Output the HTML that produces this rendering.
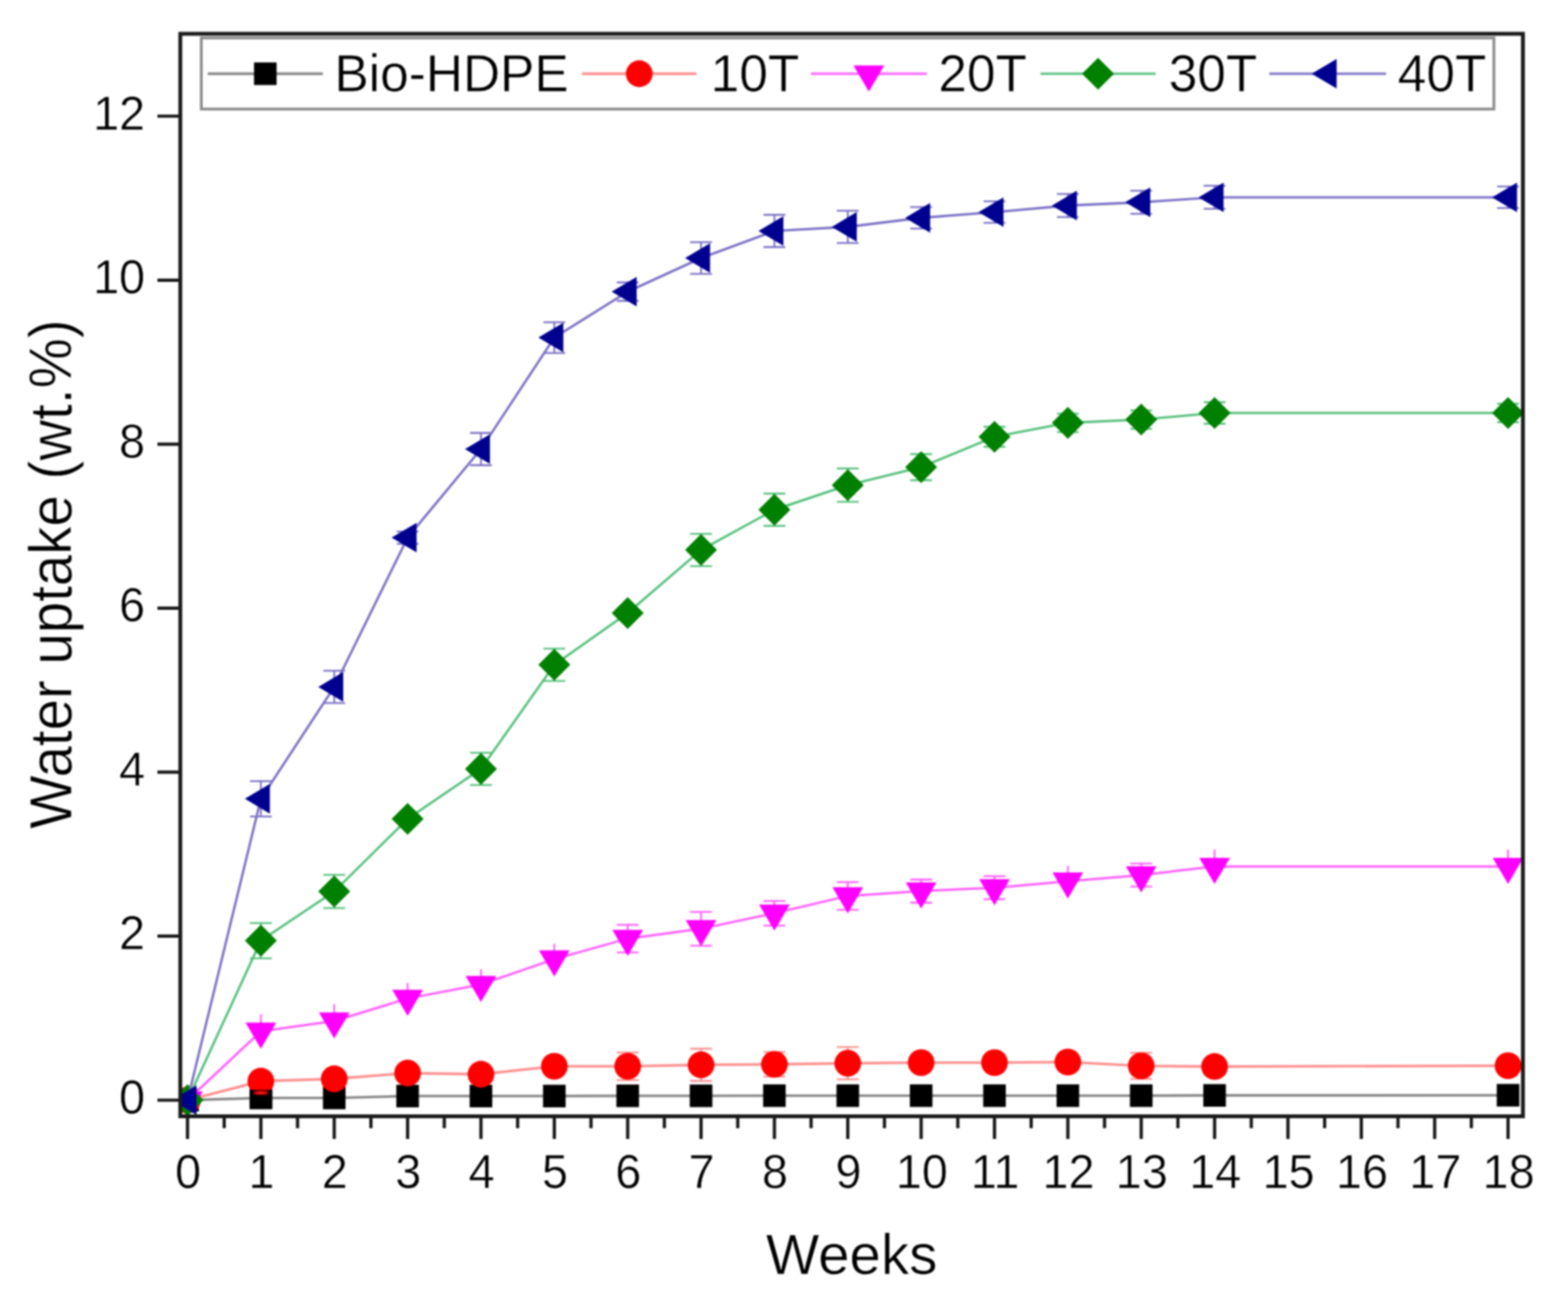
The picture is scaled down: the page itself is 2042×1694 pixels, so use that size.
<!DOCTYPE html>
<html><head><meta charset="utf-8"><title>Water uptake</title>
<style>
html,body{margin:0;padding:0;background:#fff;}
body{width:2042px;height:1694px;overflow:hidden;}
svg{display:block;filter:blur(1px);}
text{font-family:"Liberation Sans",Arial,Helvetica,sans-serif;fill:#000;stroke:#fff;stroke-width:0.6px;}
.tl{font-size:61px;}
.lg{font-size:67px;}
.at{font-size:73.5px;}
</style></head>
<body>
<svg width="2042" height="1694" viewBox="0 0 2042 1694">
<rect width="2042" height="1694" fill="#fff"/>
<defs><clipPath id="pc"><rect x="237" y="46" width="1744" height="1405"/></clipPath></defs>
<g clip-path="url(#pc)">
<polyline points="244.20,1432.50 339.74,1429.62 435.28,1429.62 530.82,1427.16 626.36,1427.16 721.90,1427.16 817.44,1426.84 912.98,1426.84 1008.52,1426.63 1104.06,1426.63 1199.60,1426.63 1295.14,1426.63 1390.68,1426.63 1486.22,1426.63 1581.76,1426.31 1963.92,1426.09" fill="none" stroke="#878787" stroke-width="3.4" stroke-linejoin="round"/>
<rect x="229.50" y="1417.80" width="29.4" height="29.4" fill="#000000"/>
<rect x="325.04" y="1414.92" width="29.4" height="29.4" fill="#000000"/>
<rect x="420.58" y="1414.92" width="29.4" height="29.4" fill="#000000"/>
<rect x="516.12" y="1412.46" width="29.4" height="29.4" fill="#000000"/>
<rect x="611.66" y="1412.46" width="29.4" height="29.4" fill="#000000"/>
<rect x="707.20" y="1412.46" width="29.4" height="29.4" fill="#000000"/>
<rect x="802.74" y="1412.14" width="29.4" height="29.4" fill="#000000"/>
<rect x="898.28" y="1412.14" width="29.4" height="29.4" fill="#000000"/>
<rect x="993.82" y="1411.93" width="29.4" height="29.4" fill="#000000"/>
<rect x="1089.36" y="1411.93" width="29.4" height="29.4" fill="#000000"/>
<rect x="1184.90" y="1411.93" width="29.4" height="29.4" fill="#000000"/>
<rect x="1280.44" y="1411.93" width="29.4" height="29.4" fill="#000000"/>
<rect x="1375.98" y="1411.93" width="29.4" height="29.4" fill="#000000"/>
<rect x="1471.52" y="1411.93" width="29.4" height="29.4" fill="#000000"/>
<rect x="1567.06" y="1411.61" width="29.4" height="29.4" fill="#000000"/>
<rect x="1949.22" y="1411.39" width="29.4" height="29.4" fill="#000000"/>
<polyline points="244.20,1432.50 339.74,1407.73 435.28,1404.74 530.82,1397.27 626.36,1398.76 721.90,1388.40 817.44,1388.40 912.98,1386.48 1008.52,1385.84 1104.06,1384.45 1199.60,1383.60 1295.14,1383.60 1390.68,1382.85 1486.22,1387.87 1581.76,1388.72 1963.92,1387.66" fill="none" stroke="#ff8e8e" stroke-width="3.4" stroke-linejoin="round"/>
<path d="M435.28,1396.74V1412.74M421.08,1396.74H449.48M421.08,1412.74H449.48M530.82,1389.27V1405.27M516.62,1389.27H545.02M516.62,1405.27H545.02M626.36,1390.76V1406.76M612.16,1390.76H640.56M612.16,1406.76H640.56M721.90,1380.40V1396.40M707.70,1380.40H736.10M707.70,1396.40H736.10M817.44,1370.40V1406.40M803.24,1370.40H831.64M803.24,1406.40H831.64M912.98,1365.48V1407.48M898.78,1365.48H927.18M898.78,1407.48H927.18M1008.52,1369.84V1401.84M994.32,1369.84H1022.72M994.32,1401.84H1022.72M1104.06,1363.45V1405.45M1089.86,1363.45H1118.26M1089.86,1405.45H1118.26M1199.60,1375.60V1391.60M1185.40,1375.60H1213.80M1185.40,1391.60H1213.80M1295.14,1375.60V1391.60M1280.94,1375.60H1309.34M1280.94,1391.60H1309.34M1390.68,1374.85V1390.85M1376.48,1374.85H1404.88M1376.48,1390.85H1404.88M1486.22,1370.87V1404.87M1472.02,1370.87H1500.42M1472.02,1404.87H1500.42M1581.76,1380.72V1396.72M1567.56,1380.72H1595.96M1567.56,1396.72H1595.96M1963.92,1379.66V1395.66M1949.72,1379.66H1978.12M1949.72,1395.66H1978.12" fill="none" stroke="#ff8e8e" stroke-width="2.3"/>
<circle cx="244.20" cy="1432.50" r="17.4" fill="#ff0000"/>
<circle cx="339.74" cy="1407.73" r="17.4" fill="#ff0000"/>
<circle cx="435.28" cy="1404.74" r="17.4" fill="#ff0000"/>
<circle cx="530.82" cy="1397.27" r="17.4" fill="#ff0000"/>
<circle cx="626.36" cy="1398.76" r="17.4" fill="#ff0000"/>
<circle cx="721.90" cy="1388.40" r="17.4" fill="#ff0000"/>
<circle cx="817.44" cy="1388.40" r="17.4" fill="#ff0000"/>
<circle cx="912.98" cy="1386.48" r="17.4" fill="#ff0000"/>
<circle cx="1008.52" cy="1385.84" r="17.4" fill="#ff0000"/>
<circle cx="1104.06" cy="1384.45" r="17.4" fill="#ff0000"/>
<circle cx="1199.60" cy="1383.60" r="17.4" fill="#ff0000"/>
<circle cx="1295.14" cy="1383.60" r="17.4" fill="#ff0000"/>
<circle cx="1390.68" cy="1382.85" r="17.4" fill="#ff0000"/>
<circle cx="1486.22" cy="1387.87" r="17.4" fill="#ff0000"/>
<circle cx="1581.76" cy="1388.72" r="17.4" fill="#ff0000"/>
<circle cx="1963.92" cy="1387.66" r="17.4" fill="#ff0000"/>
<rect x="324.94" y="1419" width="29.6" height="24.6" fill="#000"/>
<rect x="329.74" y="1419.3" width="20" height="7" fill="#6a0000" rx="3"/>
<ellipse cx="339.74" cy="1423" rx="8" ry="1.9" fill="#ff1010"/>
<polyline points="244.20,1432.50 339.74,1342.81 435.28,1329.47 530.82,1300.11 626.36,1281.95 721.90,1248.86 817.44,1222.16 912.98,1209.35 1008.52,1189.06 1104.06,1166.64 1199.60,1160.24 1295.14,1155.97 1390.68,1147.42 1486.22,1139.42 1581.76,1128.21 1963.92,1128.21" fill="none" stroke="#ff5cff" stroke-width="3.0" stroke-linejoin="round"/>
<path d="M339.74,1320.81V1342.81M435.28,1307.47V1329.47M530.82,1280.11V1300.11M626.36,1261.95V1281.95M721.90,1228.86V1248.86M817.44,1204.16V1240.16M803.24,1204.16H831.64M803.24,1240.16H831.64M912.98,1187.35V1231.35M898.78,1187.35H927.18M898.78,1231.35H927.18M1008.52,1173.06V1205.06M994.32,1173.06H1022.72M994.32,1205.06H1022.72M1104.06,1148.64V1184.64M1089.86,1148.64H1118.26M1089.86,1184.64H1118.26M1199.60,1145.24V1175.24M1185.40,1145.24H1213.80M1185.40,1175.24H1213.80M1295.14,1140.97V1170.97M1280.94,1140.97H1309.34M1280.94,1170.97H1309.34M1390.68,1127.42V1147.42M1486.22,1124.42V1154.42M1472.02,1124.42H1500.42M1472.02,1154.42H1500.42M1581.76,1106.21V1128.21M1963.92,1106.21V1128.21" fill="none" stroke="#ff5cff" stroke-width="2.3"/>
<polygon points="224.20,1421.20 264.20,1421.20 244.20,1455.20" fill="#ff00ff"/>
<polygon points="319.74,1331.51 359.74,1331.51 339.74,1365.51" fill="#ff00ff"/>
<polygon points="415.28,1318.17 455.28,1318.17 435.28,1352.17" fill="#ff00ff"/>
<polygon points="510.82,1288.81 550.82,1288.81 530.82,1322.81" fill="#ff00ff"/>
<polygon points="606.36,1270.65 646.36,1270.65 626.36,1304.65" fill="#ff00ff"/>
<polygon points="701.90,1237.56 741.90,1237.56 721.90,1271.56" fill="#ff00ff"/>
<polygon points="797.44,1210.86 837.44,1210.86 817.44,1244.86" fill="#ff00ff"/>
<polygon points="892.98,1198.05 932.98,1198.05 912.98,1232.05" fill="#ff00ff"/>
<polygon points="988.52,1177.76 1028.52,1177.76 1008.52,1211.76" fill="#ff00ff"/>
<polygon points="1084.06,1155.34 1124.06,1155.34 1104.06,1189.34" fill="#ff00ff"/>
<polygon points="1179.60,1148.94 1219.60,1148.94 1199.60,1182.94" fill="#ff00ff"/>
<polygon points="1275.14,1144.67 1315.14,1144.67 1295.14,1178.67" fill="#ff00ff"/>
<polygon points="1370.68,1136.12 1410.68,1136.12 1390.68,1170.12" fill="#ff00ff"/>
<polygon points="1466.22,1128.12 1506.22,1128.12 1486.22,1162.12" fill="#ff00ff"/>
<polygon points="1561.76,1116.91 1601.76,1116.91 1581.76,1150.91" fill="#ff00ff"/>
<polygon points="1943.92,1116.91 1983.92,1116.91 1963.92,1150.91" fill="#ff00ff"/>
<polyline points="244.20,1432.50 339.74,1224.83 435.28,1160.77 530.82,1066.28 626.36,1001.15 721.90,865.55 817.44,798.29 912.98,716.07 1008.52,663.76 1104.06,631.73 1199.60,608.24 1295.14,568.73 1390.68,550.58 1486.22,546.31 1581.76,537.77 1963.92,537.77" fill="none" stroke="#55c07c" stroke-width="3.1" stroke-linejoin="round"/>
<path d="M339.74,1201.83V1247.83M325.54,1201.83H353.94M325.54,1247.83H353.94M435.28,1139.07V1182.47M421.08,1139.07H449.48M421.08,1182.47H449.48M626.36,980.15V1022.15M612.16,980.15H640.56M612.16,1022.15H640.56M721.90,844.55V886.55M707.70,844.55H736.10M707.70,886.55H736.10M912.98,695.07V737.07M898.78,695.07H927.18M898.78,737.07H927.18M1008.52,642.76V684.76M994.32,642.76H1022.72M994.32,684.76H1022.72M1104.06,610.02V653.43M1089.86,610.02H1118.26M1089.86,653.43H1118.26M1199.60,591.24V625.24M1185.40,591.24H1213.80M1185.40,625.24H1213.80M1295.14,555.73V581.73M1280.94,555.73H1309.34M1280.94,581.73H1309.34M1390.68,538.58V562.58M1376.48,538.58H1404.88M1376.48,562.58H1404.88M1486.22,534.31V558.31M1472.02,534.31H1500.42M1472.02,558.31H1500.42M1581.76,523.77V551.77M1567.56,523.77H1595.96M1567.56,551.77H1595.96M1963.92,525.77V549.77M1949.72,525.77H1978.12M1949.72,549.77H1978.12" fill="none" stroke="#55c07c" stroke-width="2.3"/>
<polygon points="244.20,1411.70 265.00,1432.50 244.20,1453.30 223.40,1432.50" fill="#008000"/>
<polygon points="339.74,1204.03 360.54,1224.83 339.74,1245.63 318.94,1224.83" fill="#008000"/>
<polygon points="435.28,1139.97 456.08,1160.77 435.28,1181.57 414.48,1160.77" fill="#008000"/>
<polygon points="530.82,1045.48 551.62,1066.28 530.82,1087.08 510.02,1066.28" fill="#008000"/>
<polygon points="626.36,980.35 647.16,1001.15 626.36,1021.95 605.56,1001.15" fill="#008000"/>
<polygon points="721.90,844.75 742.70,865.55 721.90,886.35 701.10,865.55" fill="#008000"/>
<polygon points="817.44,777.49 838.24,798.29 817.44,819.09 796.64,798.29" fill="#008000"/>
<polygon points="912.98,695.27 933.78,716.07 912.98,736.87 892.18,716.07" fill="#008000"/>
<polygon points="1008.52,642.96 1029.32,663.76 1008.52,684.56 987.72,663.76" fill="#008000"/>
<polygon points="1104.06,610.93 1124.86,631.73 1104.06,652.52 1083.26,631.73" fill="#008000"/>
<polygon points="1199.60,587.44 1220.40,608.24 1199.60,629.04 1178.80,608.24" fill="#008000"/>
<polygon points="1295.14,547.93 1315.94,568.73 1295.14,589.53 1274.34,568.73" fill="#008000"/>
<polygon points="1390.68,529.78 1411.48,550.58 1390.68,571.38 1369.88,550.58" fill="#008000"/>
<polygon points="1486.22,525.51 1507.02,546.31 1486.22,567.11 1465.42,546.31" fill="#008000"/>
<polygon points="1581.76,516.97 1602.56,537.77 1581.76,558.57 1560.96,537.77" fill="#008000"/>
<polygon points="1963.92,516.97 1984.72,537.77 1963.92,558.57 1943.12,537.77" fill="#008000"/>
<polyline points="244.20,1432.50 339.74,1040.12 435.28,894.38 530.82,700.06 626.36,584.75 721.90,439.54 817.44,379.75 912.98,335.97 1008.52,300.74 1104.06,295.40 1199.60,283.65 1295.14,276.18 1390.68,267.64 1486.22,263.37 1581.76,256.96 1963.92,256.96" fill="none" stroke="#7a70c4" stroke-width="3.1" stroke-linejoin="round"/>
<path d="M339.74,1017.12V1063.12M325.54,1017.12H353.94M325.54,1063.12H353.94M435.28,873.38V915.38M421.08,873.38H449.48M421.08,915.38H449.48M530.82,692.06V708.06M516.62,692.06H545.02M516.62,708.06H545.02M626.36,563.75V605.75M612.16,563.75H640.56M612.16,605.75H640.56M721.90,419.54V459.54M707.70,419.54H736.10M707.70,459.54H736.10M817.44,367.75V391.75M803.24,367.75H831.64M803.24,391.75H831.64M912.98,315.37V356.57M898.78,315.37H927.18M898.78,356.57H927.18M1008.52,279.74V321.74M994.32,279.74H1022.72M994.32,321.74H1022.72M1104.06,274.40V316.40M1089.86,274.40H1118.26M1089.86,316.40H1118.26M1199.60,269.65V297.65M1185.40,269.65H1213.80M1185.40,297.65H1213.80M1295.14,262.18V290.18M1280.94,262.18H1309.34M1280.94,290.18H1309.34M1390.68,252.64V282.64M1376.48,252.64H1404.88M1376.48,282.64H1404.88M1486.22,248.37V278.37M1472.02,248.37H1500.42M1472.02,278.37H1500.42M1581.76,241.96V271.96M1567.56,241.96H1595.96M1567.56,271.96H1595.96M1963.92,242.96V270.96M1949.72,242.96H1978.12M1949.72,270.96H1978.12" fill="none" stroke="#7a70c4" stroke-width="2.3"/>
<polygon points="223.40,1432.50 255.90,1413.20 255.90,1451.80" fill="#000090"/>
<polygon points="318.94,1040.12 351.44,1020.82 351.44,1059.42" fill="#000090"/>
<polygon points="414.48,894.38 446.98,875.08 446.98,913.68" fill="#000090"/>
<polygon points="510.02,700.06 542.52,680.76 542.52,719.36" fill="#000090"/>
<polygon points="605.56,584.75 638.06,565.45 638.06,604.05" fill="#000090"/>
<polygon points="701.10,439.54 733.60,420.24 733.60,458.84" fill="#000090"/>
<polygon points="796.64,379.75 829.14,360.45 829.14,399.05" fill="#000090"/>
<polygon points="892.18,335.97 924.68,316.67 924.68,355.27" fill="#000090"/>
<polygon points="987.72,300.74 1020.22,281.44 1020.22,320.04" fill="#000090"/>
<polygon points="1083.26,295.40 1115.76,276.10 1115.76,314.70" fill="#000090"/>
<polygon points="1178.80,283.65 1211.30,264.35 1211.30,302.95" fill="#000090"/>
<polygon points="1274.34,276.18 1306.84,256.88 1306.84,295.48" fill="#000090"/>
<polygon points="1369.88,267.64 1402.38,248.34 1402.38,286.94" fill="#000090"/>
<polygon points="1465.42,263.37 1497.92,244.07 1497.92,282.67" fill="#000090"/>
<polygon points="1560.96,256.96 1593.46,237.66 1593.46,276.26" fill="#000090"/>
<polygon points="1943.12,256.96 1975.62,237.66 1975.62,276.26" fill="#000090"/>
</g>
<rect x="262.2" y="49.4" width="1683.3" height="92.6" fill="none" stroke="#8a8a8a" stroke-width="3.6"/>
<line x1="270.5" y1="96" x2="420.5" y2="96" stroke="#878787" stroke-width="3.4"/>
<rect x="330.80" y="81.30" width="29.4" height="29.4" fill="#000000"/>
<text transform="translate(435.4,119.3) scale(1,1.025)" class="lg">Bio-HDPE</text>
<line x1="758" y1="96" x2="907" y2="96" stroke="#ff8e8e" stroke-width="3.4"/>
<circle cx="832.50" cy="96.00" r="17.4" fill="#ff0000"/>
<text transform="translate(925.4,119.3) scale(1,1.025)" class="lg">10T</text>
<line x1="1056" y1="96" x2="1207" y2="96" stroke="#ff5cff" stroke-width="3.0"/>
<polygon points="1111.50,85.20 1151.50,85.20 1131.50,119.20" fill="#ff00ff"/>
<text transform="translate(1222.1,119.3) scale(1,1.025)" class="lg">20T</text>
<line x1="1355" y1="96" x2="1505" y2="96" stroke="#55c07c" stroke-width="3.1"/>
<polygon points="1430.00,75.20 1450.80,96.00 1430.00,116.80 1409.20,96.00" fill="#008000"/>
<text transform="translate(1521.9,119.3) scale(1,1.025)" class="lg">30T</text>
<line x1="1653" y1="96" x2="1805" y2="96" stroke="#7a70c4" stroke-width="3.1"/>
<polygon points="1708.20,96.00 1740.70,76.70 1740.70,115.30" fill="#000090"/>
<text transform="translate(1820.2,119.3) scale(1,1.025)" class="lg">40T</text>
<path d="M244.20,1453.50V1483.00M339.74,1453.50V1483.00M435.28,1453.50V1483.00M530.82,1453.50V1483.00M626.36,1453.50V1483.00M721.90,1453.50V1483.00M817.44,1453.50V1483.00M912.98,1453.50V1483.00M1008.52,1453.50V1483.00M1104.06,1453.50V1483.00M1199.60,1453.50V1483.00M1295.14,1453.50V1483.00M1390.68,1453.50V1483.00M1486.22,1453.50V1483.00M1581.76,1453.50V1483.00M1677.30,1453.50V1483.00M1772.84,1453.50V1483.00M1868.38,1453.50V1483.00M1963.92,1453.50V1483.00M291.97,1453.50V1469.00M387.51,1453.50V1469.00M483.05,1453.50V1469.00M578.59,1453.50V1469.00M674.13,1453.50V1469.00M769.67,1453.50V1469.00M865.21,1453.50V1469.00M960.75,1453.50V1469.00M1056.29,1453.50V1469.00M1151.83,1453.50V1469.00M1247.37,1453.50V1469.00M1342.91,1453.50V1469.00M1438.45,1453.50V1469.00M1533.99,1453.50V1469.00M1629.53,1453.50V1469.00M1725.07,1453.50V1469.00M1820.61,1453.50V1469.00M1916.15,1453.50V1469.00M234.80,1432.50H205.00M234.80,1218.96H205.00M234.80,1005.42H205.00M234.80,791.88H205.00M234.80,578.34H205.00M234.80,364.80H205.00M234.80,151.26H205.00" stroke="#161616" stroke-width="4.2" fill="none"/>
<rect x="234.8" y="44.0" width="1748.50" height="1409.50" fill="none" stroke="#1a1a1a" stroke-width="5.0"/>
<text transform="translate(245.00,1546.6) scale(1,1.035)" class="tl" text-anchor="middle">0</text>
<text transform="translate(340.54,1546.6) scale(1,1.035)" class="tl" text-anchor="middle">1</text>
<text transform="translate(436.08,1546.6) scale(1,1.035)" class="tl" text-anchor="middle">2</text>
<text transform="translate(531.62,1546.6) scale(1,1.035)" class="tl" text-anchor="middle">3</text>
<text transform="translate(627.16,1546.6) scale(1,1.035)" class="tl" text-anchor="middle">4</text>
<text transform="translate(722.70,1546.6) scale(1,1.035)" class="tl" text-anchor="middle">5</text>
<text transform="translate(818.24,1546.6) scale(1,1.035)" class="tl" text-anchor="middle">6</text>
<text transform="translate(913.78,1546.6) scale(1,1.035)" class="tl" text-anchor="middle">7</text>
<text transform="translate(1009.32,1546.6) scale(1,1.035)" class="tl" text-anchor="middle">8</text>
<text transform="translate(1104.86,1546.6) scale(1,1.035)" class="tl" text-anchor="middle">9</text>
<text transform="translate(1200.40,1546.6) scale(1,1.035)" class="tl" text-anchor="middle">10</text>
<text transform="translate(1295.94,1546.6) scale(1,1.035)" class="tl" text-anchor="middle">11</text>
<text transform="translate(1391.48,1546.6) scale(1,1.035)" class="tl" text-anchor="middle">12</text>
<text transform="translate(1487.02,1546.6) scale(1,1.035)" class="tl" text-anchor="middle">13</text>
<text transform="translate(1582.56,1546.6) scale(1,1.035)" class="tl" text-anchor="middle">14</text>
<text transform="translate(1678.10,1546.6) scale(1,1.035)" class="tl" text-anchor="middle">15</text>
<text transform="translate(1773.64,1546.6) scale(1,1.035)" class="tl" text-anchor="middle">16</text>
<text transform="translate(1869.18,1546.6) scale(1,1.035)" class="tl" text-anchor="middle">17</text>
<text transform="translate(1964.72,1546.6) scale(1,1.035)" class="tl" text-anchor="middle">18</text>
<text transform="translate(189,1449.90) scale(1,1.035)" class="tl" text-anchor="end">0</text>
<text transform="translate(189,1236.36) scale(1,1.035)" class="tl" text-anchor="end">2</text>
<text transform="translate(189,1022.82) scale(1,1.035)" class="tl" text-anchor="end">4</text>
<text transform="translate(189,809.28) scale(1,1.035)" class="tl" text-anchor="end">6</text>
<text transform="translate(189,595.74) scale(1,1.035)" class="tl" text-anchor="end">8</text>
<text transform="translate(189,382.20) scale(1,1.035)" class="tl" text-anchor="end">10</text>
<text transform="translate(189,168.66) scale(1,1.035)" class="tl" text-anchor="end">12</text>
<text transform="translate(1109,1659.3) scale(1,1.02)" class="at" text-anchor="middle">Weeks</text>
<text transform="translate(92.8,747.5) rotate(-90) scale(1,1.06)" class="at" text-anchor="middle">Water uptake (wt.%)</text>
</svg>
</body></html>
